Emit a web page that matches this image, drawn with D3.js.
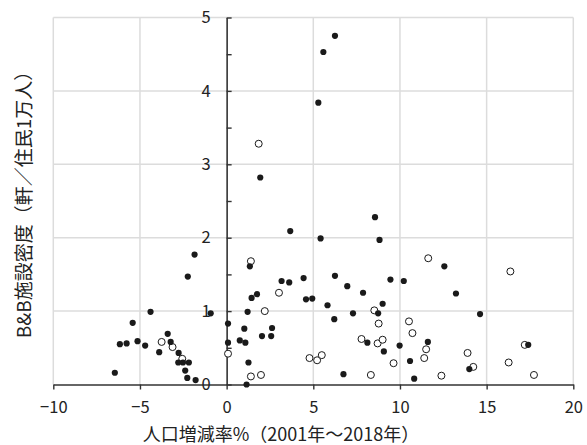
<!DOCTYPE html>
<html>
<head>
<meta charset="utf-8">
<script src="https://cdn.jsdelivr.net/npm/d3@7"></script>
<style>
    body { margin: 0; background: #fff; }
    svg { display: block; font-family: "Noto Sans CJK JP", "Noto Sans", sans-serif; }
</style>
</head>
<body>
<svg id="chart" width="587" height="445"></svg>
<script>
// black dots
const filledPoints = [
    [-6.45, 0.16], [-6.16, 0.55], [-5.77, 0.56], [-5.42, 0.84], [-5.14, 0.59],
    [-4.70, 0.53], [-4.39, 0.99], [-3.89, 0.44], [-3.40, 0.69], [-3.23, 0.58],
    [-2.77, 0.43], [-2.79, 0.30], [-2.52, 0.30], [-2.18, 0.30], [-2.39, 0.19],
    [-2.27, 0.09], [-1.79, 0.06], [-0.92, 0.97], [-1.85, 1.77], [-2.24, 1.47],
    [0.08, 0.83], [0.08, 0.57], [1.21, 0.99], [1.44, 1.18], [1.75, 1.23],
    [1.02, 0.76], [0.76, 0.60], [1.08, 0.57], [1.26, 0.30], [1.15, 0.00],
    [2.04, 0.66], [2.57, 0.66], [2.62, 0.77], [3.17, 1.41], [3.61, 1.39],
    [4.44, 1.45], [4.58, 1.16], [4.94, 1.17], [5.82, 1.08], [6.21, 0.89],
    [6.74, 0.14], [6.96, 1.34], [7.29, 0.97], [7.87, 1.25], [8.12, 0.57],
    [8.74, 0.97], [9.00, 1.10], [9.45, 1.43], [10.22, 1.41], [9.07, 0.45],
    [9.98, 0.53], [11.61, 0.58], [10.58, 0.32], [10.82, 0.08], [13.23, 1.24],
    [14.62, 0.96], [14.00, 0.21], [17.40, 0.54], [12.56, 1.61], [6.25, 1.48],
    [1.34, 1.61], [1.94, 2.82], [3.67, 2.09], [5.42, 1.99], [8.56, 2.28],
    [8.82, 1.97], [5.29, 3.84], [5.58, 4.53], [6.25, 4.75]
];

// white (open) dots
const openPoints = [
    [-3.75, 0.58], [-3.12, 0.51], [-2.56, 0.35], [0.08, 0.42], [1.40, 0.11],
    [1.98, 0.13], [2.20, 1.00], [3.02, 1.25], [4.78, 0.36], [5.22, 0.33],
    [5.49, 0.40], [7.78, 0.62], [8.32, 0.13], [8.52, 1.01], [8.77, 0.83],
    [8.71, 0.56], [9.00, 0.61], [9.63, 0.29], [10.52, 0.86], [10.72, 0.70],
    [11.51, 0.48], [11.40, 0.36], [12.39, 0.12], [13.90, 0.43], [14.23, 0.24],
    [16.27, 0.30], [17.20, 0.54], [17.73, 0.13], [11.63, 1.72], [16.37, 1.54],
    [1.40, 1.68], [1.85, 3.28]
];

const xTicks = [-10, -5, 0, 5, 10, 15, 20];
const yTicks = [0, 0.5, 1, 1.5, 2, 2.5, 3, 3.5, 4, 4.5, 5];
const yLabels = [0, 1, 2, 3, 4, 5];

const xTitle = "人口増減率%（2001年～2018年）";
const yTitle = "B&B施設密度（軒／住民1万人）";

const svg = d3.select("#chart");
const margin = { top: 17.5, right: 13.7, bottom: 60.5, left: 53.3 };
const width = 587 - margin.left - margin.right;
const height = 445 - margin.top - margin.bottom;

const x = d3.scaleLinear().domain([-10, 20]).range([margin.left, margin.left + width]);
const y = d3.scaleLinear().domain([0, 5]).range([margin.top + height, margin.top]);

const gridColor = "#dcdcdc";
const axisColor = "#333";
const textColor = "#222";

// grid
const grid = svg.append("g");
grid.selectAll(".vgrid")
    .data(xTicks.filter(d => d !== 0))
    .enter().append("line")
    .attr("x1", d => x(d)).attr("x2", d => x(d))
    .attr("y1", y(0)).attr("y2", y(5))
    .attr("stroke", gridColor).attr("stroke-width", 1.5);
grid.selectAll(".hgrid")
    .data(yLabels.filter(d => d !== 0))
    .enter().append("line")
    .attr("x1", x(-10)).attr("x2", x(20))
    .attr("y1", d => y(d)).attr("y2", d => y(d))
    .attr("stroke", gridColor).attr("stroke-width", 1.5);

// x axis along y = 0
const xAxis = svg.append("g")
    .attr("transform", `translate(0,${y(0)})`)
    .call(d3.axisBottom(x).tickValues(xTicks).tickSize(5).tickSizeOuter(0).tickPadding(12));

// y axis along x = 0, ticks pointing right
const yAxis = svg.append("g")
    .attr("transform", `translate(${x(0)},0)`)
    .call(d3.axisLeft(y).tickValues(yTicks).tickSize(-5).tickSizeOuter(0).tickPadding(16)
        .tickFormat(d => Number.isInteger(d) ? d : ""));

[xAxis, yAxis].forEach(a => {
    a.select(".domain").attr("stroke", axisColor).attr("stroke-width", 1.6);
    a.selectAll(".tick line").attr("stroke", axisColor).attr("stroke-width", 1.4);
    a.selectAll(".tick text")
        .attr("fill", textColor)
        .style("font-size", "16.5px")
        .style("font-family", "'Noto Sans CJK JP', sans-serif");
});

// points
svg.append("g").selectAll("circle")
    .data(openPoints)
    .enter().append("circle")
    .attr("cx", d => x(d[0]))
    .attr("cy", d => y(d[1]))
    .attr("r", 3.5)
    .attr("fill", "#fff")
    .attr("stroke", "#1a1a1a")
    .attr("stroke-width", 1);

svg.append("g").selectAll("circle")
    .data(filledPoints)
    .enter().append("circle")
    .attr("cx", d => x(d[0]))
    .attr("cy", d => y(d[1]))
    .attr("r", 3.1)
    .attr("fill", "#1a1a1a");

// titles
svg.append("text")
    .attr("x", 281)
    .attr("y", 433)
    .attr("text-anchor", "middle")
    .attr("dominant-baseline", "central")
    .attr("fill", textColor)
    .style("font-size", "18px")
    .text(xTitle);

svg.append("text")
    .attr("transform", "translate(22,200) rotate(-90)")
    .attr("text-anchor", "middle")
    .attr("dominant-baseline", "central")
    .attr("fill", textColor)
    .style("font-size", "19px")
    .text(yTitle);
</script>
</body>
</html>
